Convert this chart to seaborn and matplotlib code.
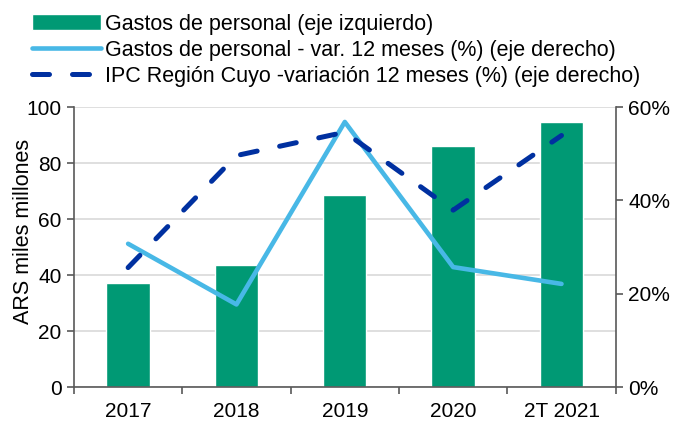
import matplotlib
matplotlib.use("Agg")
import matplotlib.pyplot as plt
import seaborn as sns
import numpy as np
import pandas as pd
from matplotlib.ticker import FuncFormatter, FixedLocator

sns.set_theme(style="white")
plt.rcParams['font.family'] = ['Liberation Sans', 'DejaVu Sans']

categories = ["2017", "2018", "2019", "2020", "2T 2021"]
gastos = [37.0, 43.7, 68.5, 86.1, 94.8]
var_gastos = [30.7, 17.7, 56.8, 25.7, 22.1]
ipc_cuyo = [25.6, 49.6, 54.6, 37.9, 53.9]

lbl_bar = "Gastos de personal (eje izquierdo)"
lbl_var = "Gastos de personal - var. 12 meses (%) (eje derecho)"
lbl_ipc = "IPC Región Cuyo -variación 12 meses (%) (eje derecho)"

green = "#009974"
light_blue = "#48B8E6"
dark_blue = "#0030A0"
spine_col = "#595959"
fs = 15
fs_leg = 15.5

df = pd.DataFrame({"cat": categories, "gastos": gastos})

fig = plt.figure(figsize=(6.91, 4.23), dpi=100)
ax = fig.add_axes([0.107, 0.085, 0.784, 0.662])

sns.barplot(data=df, x="cat", y="gastos", color=green, width=0.4,
            saturation=1, ax=ax, label=lbl_bar, zorder=2)
ax.set_ylim(0, 100)
ax.set_xlim(-0.5, 4.5)
ax.set_yticks([0, 20, 40, 60, 80, 100])
ax.yaxis.grid(True, color="#D9D9D9", linewidth=1.2, zorder=0)
ax.set_axisbelow(True)
ax.set_xlabel("")
ax.set_ylabel("ARS miles millones", fontsize=15.5, color="black")
ax.yaxis.set_label_coords(-0.074, 0.557)

ax2 = ax.twinx()
xs = np.arange(len(categories))
sns.lineplot(x=xs, y=var_gastos, ax=ax2, color=light_blue, linewidth=3.3,
             label=lbl_var, sort=False)
sns.lineplot(x=xs, y=ipc_cuyo, ax=ax2, color=dark_blue, linewidth=3.6,
             label=lbl_ipc, sort=False)
ipc_line = ax2.get_lines()[-1]
ipc_line.set_dashes((3.4, 4.6))
ipc_line.set_dash_capstyle("round")
ax2.get_lines()[0].set_solid_capstyle("round")
ax2.set_ylim(0, 60)
ax2.set_yticks([0, 20, 40, 60])
ax2.yaxis.set_major_formatter(FuncFormatter(lambda v, p: f"{int(v)}%"))
ax2.set_xlim(-0.5, 4.5)
ax2.grid(False)

for a in (ax, ax2):
    a.spines["top"].set_visible(False)
    for s in ["left", "right", "bottom"]:
        a.spines[s].set_color(spine_col)
        a.spines[s].set_linewidth(1.2)
ax2.spines["left"].set_visible(False)
ax2.spines["bottom"].set_visible(False)
ax.spines["right"].set_visible(False)

ax.tick_params(axis="y", which="major", direction="out", length=5, width=1.2,
               color=spine_col, labelsize=fs, labelcolor="black", pad=4, left=True)
ax2.tick_params(axis="y", which="major", direction="out", length=5, width=1.2,
                color=spine_col, labelsize=fs, labelcolor="black", pad=4, right=True)
ax.set_xticks(xs)
ax.set_xticklabels(categories)
ax.tick_params(axis="x", which="major", length=0, labelsize=fs, labelcolor="black", pad=11)
ax.xaxis.set_minor_locator(FixedLocator(np.arange(-0.5, 5, 1.0)))
ax.tick_params(axis="x", which="minor", direction="out", length=5, width=1.2,
               color=spine_col, bottom=True)

h1, l1 = ax.get_legend_handles_labels()
h2, l2 = ax2.get_legend_handles_labels()
if ax2.get_legend():
    ax2.get_legend().remove()
if ax.get_legend():
    ax.get_legend().remove()
leg = fig.legend(h1 + h2, l1 + l2, loc="upper left",
                 bbox_to_anchor=(0.046, 0.968), frameon=False, fontsize=fs_leg,
                 handlelength=3.2, handletextpad=0.2, labelspacing=0.24,
                 borderpad=0, borderaxespad=0)
for t in leg.get_texts():
    t.set_color("black")

fig.savefig("out.png", dpi=100)
